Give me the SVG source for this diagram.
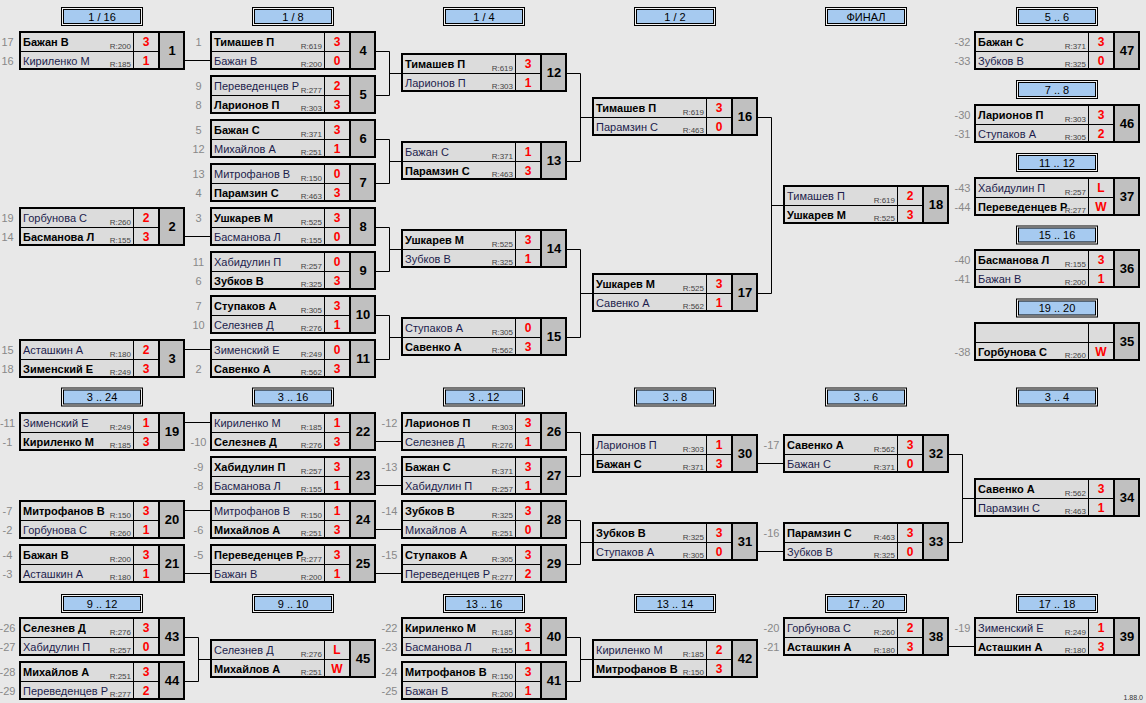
<svg xmlns="http://www.w3.org/2000/svg" xmlns:xlink="http://www.w3.org/1999/xlink" width="1146" height="703" viewBox="0 0 1146 703">
<style>
text{font-family:"Liberation Sans",Arial,sans-serif}
.nm{font-size:11px;fill:#1c1c4c}
.w{font-weight:bold;fill:#000}
.rt{font-size:8px;fill:#444;text-anchor:end}
.sc{font-size:12px;font-weight:bold;fill:#f00;text-anchor:middle}
.no{font-size:13px;font-weight:bold;fill:#000;text-anchor:middle}
.sd{font-size:11px;fill:#888;text-anchor:middle}
.ht{font-size:11px;fill:#000;text-anchor:middle}
.cn{stroke:#000;stroke-width:1;fill:none}
.ver{font-size:7px;fill:#333;text-anchor:end}
</style>
<defs>
<g id="box">
<rect x="1" y="1" width="139" height="37" fill="#dcdcdc"/>
<rect x="140" y="1" width="25" height="37" fill="#c0c0c0"/>
<path d="M1 20.5H140M114.5 1V38" stroke="#000" stroke-width="1" fill="none"/>
<rect x="1" y="1" width="164" height="37" fill="none" stroke="#000" stroke-width="2"/>
<path d="M140 1V38" stroke="#000" stroke-width="2"/>
</g>
<g id="hdr">
<rect x="0.5" y="0.5" width="81" height="18" fill="#f2f2f2" stroke="#000"/>
<rect x="2.5" y="2.5" width="77" height="14" fill="#a6caf0" stroke="#000"/>
</g>
</defs>
<rect width="1146" height="703" fill="#e8e8e8"/>

<g id="headers">
<g transform="translate(61,7)"><use href="#hdr"/><text class="ht" x="41" y="13.5">1 / 16</text></g>
<g transform="translate(252,7)"><use href="#hdr"/><text class="ht" x="41" y="13.5">1 / 8</text></g>
<g transform="translate(443,7)"><use href="#hdr"/><text class="ht" x="41" y="13.5">1 / 4</text></g>
<g transform="translate(634,7)"><use href="#hdr"/><text class="ht" x="41" y="13.5">1 / 2</text></g>
<g transform="translate(825,7)"><use href="#hdr"/><text class="ht" x="41" y="13.5">ФИНАЛ</text></g>
<g transform="translate(1016,7)"><use href="#hdr"/><text class="ht" x="41" y="13.5">5 .. 6</text></g>
<g transform="translate(1016,80)"><use href="#hdr"/><text class="ht" x="41" y="13.5">7 .. 8</text></g>
<g transform="translate(1016,153)"><use href="#hdr"/><text class="ht" x="41" y="13.5">11 .. 12</text></g>
<g transform="translate(1016,225.5)"><use href="#hdr"/><text class="ht" x="41" y="13.5">15 .. 16</text></g>
<g transform="translate(1016,298.5)"><use href="#hdr"/><text class="ht" x="41" y="13.5">19 .. 20</text></g>
<g transform="translate(61,387.5)"><use href="#hdr"/><text class="ht" x="41" y="13.5">3 .. 24</text></g>
<g transform="translate(252,387.5)"><use href="#hdr"/><text class="ht" x="41" y="13.5">3 .. 16</text></g>
<g transform="translate(443,387.5)"><use href="#hdr"/><text class="ht" x="41" y="13.5">3 .. 12</text></g>
<g transform="translate(634,387.5)"><use href="#hdr"/><text class="ht" x="41" y="13.5">3 .. 8</text></g>
<g transform="translate(825,387.5)"><use href="#hdr"/><text class="ht" x="41" y="13.5">3 .. 6</text></g>
<g transform="translate(1016,387.5)"><use href="#hdr"/><text class="ht" x="41" y="13.5">3 .. 4</text></g>
<g transform="translate(61,594)"><use href="#hdr"/><text class="ht" x="41" y="13.5">9 .. 12</text></g>
<g transform="translate(252,594)"><use href="#hdr"/><text class="ht" x="41" y="13.5">9 .. 10</text></g>
<g transform="translate(443,594)"><use href="#hdr"/><text class="ht" x="41" y="13.5">13 .. 16</text></g>
<g transform="translate(634,594)"><use href="#hdr"/><text class="ht" x="41" y="13.5">13 .. 14</text></g>
<g transform="translate(825,594)"><use href="#hdr"/><text class="ht" x="41" y="13.5">17 .. 20</text></g>
<g transform="translate(1016,594)"><use href="#hdr"/><text class="ht" x="41" y="13.5">17 .. 18</text></g>
</g>

<g id="connectors" class="cn">
<path d="M184 60.5H211M184 236.5H211M184 349.5H211
M375 51.5H389.5V95.5H375M389.5 73.5H402
M375 139.5H389.5V183.5H375M389.5 161.5H402
M375 227.5H389.5V271.5H375M389.5 249.5H402
M375 315.5H389.5V359.5H375M389.5 337.5H402
M566 73.5H580.5V161.5H566M580.5 117.5H593
M566 249.5H580.5V337.5H566M580.5 293.5H593
M757 117.5H771.5V293.5H757M771.5 205.5H784
M184 422.5H211M184 510.5H211M184 573.5H211
M375 441.5H402M375 485.5H402M375 529.5H402M375 573.5H402
M566 432.5H580.5V476.5H566M580.5 454.5H593
M566 520.5H580.5V564.5H566M580.5 542.5H593
M757 463.5H784M757 551.5H784
M948 454.5H962.5V542.5H948M962.5 498.5H975
M184 637.5H198.5V681.5H184M198.5 659.5H211
M566 637.5H580.5V681.5H566M580.5 659.5H593
M948 646.5H975"/>
</g>

<g id="m1" transform="translate(19,31)"><use href="#box"/><text class="sd" x="-11.5" y="15">17</text><text class="sd" x="-11.5" y="34">16</text><text class="nm w" x="4" y="15">Бажан В</text><text class="rt" x="112" y="17.5">R:200</text><text class="sc" x="127" y="15">3</text><text class="nm" x="4" y="34">Кириленко М</text><text class="rt" x="112" y="36">R:185</text><text class="sc" x="127" y="34">1</text><text class="no" x="153" y="24">1</text></g>
<g id="m2" transform="translate(19,207)"><use href="#box"/><text class="sd" x="-11.5" y="15">19</text><text class="sd" x="-11.5" y="34">14</text><text class="nm" x="4" y="15">Горбунова С</text><text class="rt" x="112" y="17.5">R:260</text><text class="sc" x="127" y="15">2</text><text class="nm w" x="4" y="34">Басманова Л</text><text class="rt" x="112" y="36">R:155</text><text class="sc" x="127" y="34">3</text><text class="no" x="153" y="24">2</text></g>
<g id="m3" transform="translate(19,339)"><use href="#box"/><text class="sd" x="-11.5" y="15">15</text><text class="sd" x="-11.5" y="34">18</text><text class="nm" x="4" y="15">Асташкин А</text><text class="rt" x="112" y="17.5">R:180</text><text class="sc" x="127" y="15">2</text><text class="nm w" x="4" y="34">Зименский Е</text><text class="rt" x="112" y="36">R:249</text><text class="sc" x="127" y="34">3</text><text class="no" x="153" y="24">3</text></g>

<g id="m4" transform="translate(210,31)"><use href="#box"/><text class="sd" x="-11.5" y="15">1</text><text class="nm w" x="4" y="15">Тимашев П</text><text class="rt" x="112" y="17.5">R:619</text><text class="sc" x="127" y="15">3</text><text class="nm" x="4" y="34">Бажан В</text><text class="rt" x="112" y="36">R:200</text><text class="sc" x="127" y="34">0</text><text class="no" x="153" y="24">4</text></g>
<g id="m5" transform="translate(210,75)"><use href="#box"/><text class="sd" x="-11.5" y="15">9</text><text class="sd" x="-11.5" y="34">8</text><text class="nm" x="4" y="15">Переведенцев Р</text><text class="rt" x="112" y="17.5">R:277</text><text class="sc" x="127" y="15">2</text><text class="nm w" x="4" y="34">Ларионов П</text><text class="rt" x="112" y="36">R:303</text><text class="sc" x="127" y="34">3</text><text class="no" x="153" y="24">5</text></g>
<g id="m6" transform="translate(210,119)"><use href="#box"/><text class="sd" x="-11.5" y="15">5</text><text class="sd" x="-11.5" y="34">12</text><text class="nm w" x="4" y="15">Бажан С</text><text class="rt" x="112" y="17.5">R:371</text><text class="sc" x="127" y="15">3</text><text class="nm" x="4" y="34">Михайлов А</text><text class="rt" x="112" y="36">R:251</text><text class="sc" x="127" y="34">1</text><text class="no" x="153" y="24">6</text></g>
<g id="m7" transform="translate(210,163)"><use href="#box"/><text class="sd" x="-11.5" y="15">13</text><text class="sd" x="-11.5" y="34">4</text><text class="nm" x="4" y="15">Митрофанов В</text><text class="rt" x="112" y="17.5">R:150</text><text class="sc" x="127" y="15">0</text><text class="nm w" x="4" y="34">Парамзин С</text><text class="rt" x="112" y="36">R:463</text><text class="sc" x="127" y="34">3</text><text class="no" x="153" y="24">7</text></g>
<g id="m8" transform="translate(210,207)"><use href="#box"/><text class="sd" x="-11.5" y="15">3</text><text class="nm w" x="4" y="15">Ушкарев М</text><text class="rt" x="112" y="17.5">R:525</text><text class="sc" x="127" y="15">3</text><text class="nm" x="4" y="34">Басманова Л</text><text class="rt" x="112" y="36">R:155</text><text class="sc" x="127" y="34">0</text><text class="no" x="153" y="24">8</text></g>
<g id="m9" transform="translate(210,251)"><use href="#box"/><text class="sd" x="-11.5" y="15">11</text><text class="sd" x="-11.5" y="34">6</text><text class="nm" x="4" y="15">Хабидулин П</text><text class="rt" x="112" y="17.5">R:257</text><text class="sc" x="127" y="15">0</text><text class="nm w" x="4" y="34">Зубков В</text><text class="rt" x="112" y="36">R:325</text><text class="sc" x="127" y="34">3</text><text class="no" x="153" y="24">9</text></g>
<g id="m10" transform="translate(210,295)"><use href="#box"/><text class="sd" x="-11.5" y="15">7</text><text class="sd" x="-11.5" y="34">10</text><text class="nm w" x="4" y="15">Ступаков А</text><text class="rt" x="112" y="17.5">R:305</text><text class="sc" x="127" y="15">3</text><text class="nm" x="4" y="34">Селезнев Д</text><text class="rt" x="112" y="36">R:276</text><text class="sc" x="127" y="34">1</text><text class="no" x="153" y="24">10</text></g>
<g id="m11" transform="translate(210,339)"><use href="#box"/><text class="sd" x="-11.5" y="34">2</text><text class="nm" x="4" y="15">Зименский Е</text><text class="rt" x="112" y="17.5">R:249</text><text class="sc" x="127" y="15">0</text><text class="nm w" x="4" y="34">Савенко А</text><text class="rt" x="112" y="36">R:562</text><text class="sc" x="127" y="34">3</text><text class="no" x="153" y="24">11</text></g>

<g id="m12" transform="translate(401,53)"><use href="#box"/><text class="nm w" x="4" y="15">Тимашев П</text><text class="rt" x="112" y="17.5">R:619</text><text class="sc" x="127" y="15">3</text><text class="nm" x="4" y="34">Ларионов П</text><text class="rt" x="112" y="36">R:303</text><text class="sc" x="127" y="34">1</text><text class="no" x="153" y="24">12</text></g>
<g id="m13" transform="translate(401,141)"><use href="#box"/><text class="nm" x="4" y="15">Бажан С</text><text class="rt" x="112" y="17.5">R:371</text><text class="sc" x="127" y="15">1</text><text class="nm w" x="4" y="34">Парамзин С</text><text class="rt" x="112" y="36">R:463</text><text class="sc" x="127" y="34">3</text><text class="no" x="153" y="24">13</text></g>
<g id="m14" transform="translate(401,229)"><use href="#box"/><text class="nm w" x="4" y="15">Ушкарев М</text><text class="rt" x="112" y="17.5">R:525</text><text class="sc" x="127" y="15">3</text><text class="nm" x="4" y="34">Зубков В</text><text class="rt" x="112" y="36">R:325</text><text class="sc" x="127" y="34">1</text><text class="no" x="153" y="24">14</text></g>
<g id="m15" transform="translate(401,317)"><use href="#box"/><text class="nm" x="4" y="15">Ступаков А</text><text class="rt" x="112" y="17.5">R:305</text><text class="sc" x="127" y="15">0</text><text class="nm w" x="4" y="34">Савенко А</text><text class="rt" x="112" y="36">R:562</text><text class="sc" x="127" y="34">3</text><text class="no" x="153" y="24">15</text></g>

<g id="m16" transform="translate(592,97)"><use href="#box"/><text class="nm w" x="4" y="15">Тимашев П</text><text class="rt" x="112" y="17.5">R:619</text><text class="sc" x="127" y="15">3</text><text class="nm" x="4" y="34">Парамзин С</text><text class="rt" x="112" y="36">R:463</text><text class="sc" x="127" y="34">0</text><text class="no" x="153" y="24">16</text></g>
<g id="m17" transform="translate(592,273)"><use href="#box"/><text class="nm w" x="4" y="15">Ушкарев М</text><text class="rt" x="112" y="17.5">R:525</text><text class="sc" x="127" y="15">3</text><text class="nm" x="4" y="34">Савенко А</text><text class="rt" x="112" y="36">R:562</text><text class="sc" x="127" y="34">1</text><text class="no" x="153" y="24">17</text></g>
<g id="m18" transform="translate(783,185)"><use href="#box"/><text class="nm" x="4" y="15">Тимашев П</text><text class="rt" x="112" y="17.5">R:619</text><text class="sc" x="127" y="15">2</text><text class="nm w" x="4" y="34">Ушкарев М</text><text class="rt" x="112" y="36">R:525</text><text class="sc" x="127" y="34">3</text><text class="no" x="153" y="24">18</text></g>

<g id="m47" transform="translate(974,31)"><use href="#box"/><text class="sd" x="-11.5" y="15">-32</text><text class="sd" x="-11.5" y="34">-33</text><text class="nm w" x="4" y="15">Бажан С</text><text class="rt" x="112" y="17.5">R:371</text><text class="sc" x="127" y="15">3</text><text class="nm" x="4" y="34">Зубков В</text><text class="rt" x="112" y="36">R:325</text><text class="sc" x="127" y="34">0</text><text class="no" x="153" y="24">47</text></g>
<g id="m46" transform="translate(974,104)"><use href="#box"/><text class="sd" x="-11.5" y="15">-30</text><text class="sd" x="-11.5" y="34">-31</text><text class="nm w" x="4" y="15">Ларионов П</text><text class="rt" x="112" y="17.5">R:303</text><text class="sc" x="127" y="15">3</text><text class="nm" x="4" y="34">Ступаков А</text><text class="rt" x="112" y="36">R:305</text><text class="sc" x="127" y="34">2</text><text class="no" x="153" y="24">46</text></g>
<g id="m37" transform="translate(974,177)"><use href="#box"/><text class="sd" x="-11.5" y="15">-43</text><text class="sd" x="-11.5" y="34">-44</text><text class="nm" x="4" y="15">Хабидулин П</text><text class="rt" x="112" y="17.5">R:257</text><text class="sc" x="127" y="15">L</text><text class="nm w" x="4" y="34">Переведенцев Р</text><text class="rt" x="112" y="36">R:277</text><text class="sc" x="127" y="34">W</text><text class="no" x="153" y="24">37</text></g>
<g id="m36" transform="translate(974,249)"><use href="#box"/><text class="sd" x="-11.5" y="15">-40</text><text class="sd" x="-11.5" y="34">-41</text><text class="nm w" x="4" y="15">Басманова Л</text><text class="rt" x="112" y="17.5">R:155</text><text class="sc" x="127" y="15">3</text><text class="nm" x="4" y="34">Бажан В</text><text class="rt" x="112" y="36">R:200</text><text class="sc" x="127" y="34">1</text><text class="no" x="153" y="24">36</text></g>
<g id="m35" transform="translate(974,322)"><use href="#box"/><text class="sd" x="-11.5" y="34">-38</text><text class="nm w" x="4" y="34">Горбунова С</text><text class="rt" x="112" y="36">R:260</text><text class="sc" x="127" y="34">W</text><text class="no" x="153" y="24">35</text></g>

<g id="m19" transform="translate(19,412)"><use href="#box"/><text class="sd" x="-11.5" y="15">-11</text><text class="sd" x="-11.5" y="34">-1</text><text class="nm" x="4" y="15">Зименский Е</text><text class="rt" x="112" y="17.5">R:249</text><text class="sc" x="127" y="15">1</text><text class="nm w" x="4" y="34">Кириленко М</text><text class="rt" x="112" y="36">R:185</text><text class="sc" x="127" y="34">3</text><text class="no" x="153" y="24">19</text></g>
<g id="m20" transform="translate(19,500)"><use href="#box"/><text class="sd" x="-11.5" y="15">-7</text><text class="sd" x="-11.5" y="34">-2</text><text class="nm w" x="4" y="15">Митрофанов В</text><text class="rt" x="112" y="17.5">R:150</text><text class="sc" x="127" y="15">3</text><text class="nm" x="4" y="34">Горбунова С</text><text class="rt" x="112" y="36">R:260</text><text class="sc" x="127" y="34">1</text><text class="no" x="153" y="24">20</text></g>
<g id="m21" transform="translate(19,544)"><use href="#box"/><text class="sd" x="-11.5" y="15">-4</text><text class="sd" x="-11.5" y="34">-3</text><text class="nm w" x="4" y="15">Бажан В</text><text class="rt" x="112" y="17.5">R:200</text><text class="sc" x="127" y="15">3</text><text class="nm" x="4" y="34">Асташкин А</text><text class="rt" x="112" y="36">R:180</text><text class="sc" x="127" y="34">1</text><text class="no" x="153" y="24">21</text></g>

<g id="m22" transform="translate(210,412)"><use href="#box"/><text class="sd" x="-11.5" y="34">-10</text><text class="nm" x="4" y="15">Кириленко М</text><text class="rt" x="112" y="17.5">R:185</text><text class="sc" x="127" y="15">1</text><text class="nm w" x="4" y="34">Селезнев Д</text><text class="rt" x="112" y="36">R:276</text><text class="sc" x="127" y="34">3</text><text class="no" x="153" y="24">22</text></g>
<g id="m23" transform="translate(210,456)"><use href="#box"/><text class="sd" x="-11.5" y="15">-9</text><text class="sd" x="-11.5" y="34">-8</text><text class="nm w" x="4" y="15">Хабидулин П</text><text class="rt" x="112" y="17.5">R:257</text><text class="sc" x="127" y="15">3</text><text class="nm" x="4" y="34">Басманова Л</text><text class="rt" x="112" y="36">R:155</text><text class="sc" x="127" y="34">1</text><text class="no" x="153" y="24">23</text></g>
<g id="m24" transform="translate(210,500)"><use href="#box"/><text class="sd" x="-11.5" y="34">-6</text><text class="nm" x="4" y="15">Митрофанов В</text><text class="rt" x="112" y="17.5">R:150</text><text class="sc" x="127" y="15">1</text><text class="nm w" x="4" y="34">Михайлов А</text><text class="rt" x="112" y="36">R:251</text><text class="sc" x="127" y="34">3</text><text class="no" x="153" y="24">24</text></g>
<g id="m25" transform="translate(210,544)"><use href="#box"/><text class="sd" x="-11.5" y="15">-5</text><text class="nm w" x="4" y="15">Переведенцев Р</text><text class="rt" x="112" y="17.5">R:277</text><text class="sc" x="127" y="15">3</text><text class="nm" x="4" y="34">Бажан В</text><text class="rt" x="112" y="36">R:200</text><text class="sc" x="127" y="34">1</text><text class="no" x="153" y="24">25</text></g>

<g id="m26" transform="translate(401,412)"><use href="#box"/><text class="sd" x="-11.5" y="15">-12</text><text class="nm w" x="4" y="15">Ларионов П</text><text class="rt" x="112" y="17.5">R:303</text><text class="sc" x="127" y="15">3</text><text class="nm" x="4" y="34">Селезнев Д</text><text class="rt" x="112" y="36">R:276</text><text class="sc" x="127" y="34">1</text><text class="no" x="153" y="24">26</text></g>
<g id="m27" transform="translate(401,456)"><use href="#box"/><text class="sd" x="-11.5" y="15">-13</text><text class="nm w" x="4" y="15">Бажан С</text><text class="rt" x="112" y="17.5">R:371</text><text class="sc" x="127" y="15">3</text><text class="nm" x="4" y="34">Хабидулин П</text><text class="rt" x="112" y="36">R:257</text><text class="sc" x="127" y="34">1</text><text class="no" x="153" y="24">27</text></g>
<g id="m28" transform="translate(401,500)"><use href="#box"/><text class="sd" x="-11.5" y="15">-14</text><text class="nm w" x="4" y="15">Зубков В</text><text class="rt" x="112" y="17.5">R:325</text><text class="sc" x="127" y="15">3</text><text class="nm" x="4" y="34">Михайлов А</text><text class="rt" x="112" y="36">R:251</text><text class="sc" x="127" y="34">0</text><text class="no" x="153" y="24">28</text></g>
<g id="m29" transform="translate(401,544)"><use href="#box"/><text class="sd" x="-11.5" y="15">-15</text><text class="nm w" x="4" y="15">Ступаков А</text><text class="rt" x="112" y="17.5">R:305</text><text class="sc" x="127" y="15">3</text><text class="nm" x="4" y="34">Переведенцев Р</text><text class="rt" x="112" y="36">R:277</text><text class="sc" x="127" y="34">2</text><text class="no" x="153" y="24">29</text></g>

<g id="m30" transform="translate(592,434)"><use href="#box"/><text class="nm" x="4" y="15">Ларионов П</text><text class="rt" x="112" y="17.5">R:303</text><text class="sc" x="127" y="15">1</text><text class="nm w" x="4" y="34">Бажан С</text><text class="rt" x="112" y="36">R:371</text><text class="sc" x="127" y="34">3</text><text class="no" x="153" y="24">30</text></g>
<g id="m31" transform="translate(592,522)"><use href="#box"/><text class="nm w" x="4" y="15">Зубков В</text><text class="rt" x="112" y="17.5">R:325</text><text class="sc" x="127" y="15">3</text><text class="nm" x="4" y="34">Ступаков А</text><text class="rt" x="112" y="36">R:305</text><text class="sc" x="127" y="34">0</text><text class="no" x="153" y="24">31</text></g>
<g id="m32" transform="translate(783,434)"><use href="#box"/><text class="sd" x="-11.5" y="15">-17</text><text class="nm w" x="4" y="15">Савенко А</text><text class="rt" x="112" y="17.5">R:562</text><text class="sc" x="127" y="15">3</text><text class="nm" x="4" y="34">Бажан С</text><text class="rt" x="112" y="36">R:371</text><text class="sc" x="127" y="34">0</text><text class="no" x="153" y="24">32</text></g>
<g id="m33" transform="translate(783,522)"><use href="#box"/><text class="sd" x="-11.5" y="15">-16</text><text class="nm w" x="4" y="15">Парамзин С</text><text class="rt" x="112" y="17.5">R:463</text><text class="sc" x="127" y="15">3</text><text class="nm" x="4" y="34">Зубков В</text><text class="rt" x="112" y="36">R:325</text><text class="sc" x="127" y="34">0</text><text class="no" x="153" y="24">33</text></g>
<g id="m34" transform="translate(974,478)"><use href="#box"/><text class="nm w" x="4" y="15">Савенко А</text><text class="rt" x="112" y="17.5">R:562</text><text class="sc" x="127" y="15">3</text><text class="nm" x="4" y="34">Парамзин С</text><text class="rt" x="112" y="36">R:463</text><text class="sc" x="127" y="34">1</text><text class="no" x="153" y="24">34</text></g>

<g id="m43" transform="translate(19,617)"><use href="#box"/><text class="sd" x="-11.5" y="15">-26</text><text class="sd" x="-11.5" y="34">-27</text><text class="nm w" x="4" y="15">Селезнев Д</text><text class="rt" x="112" y="17.5">R:276</text><text class="sc" x="127" y="15">3</text><text class="nm" x="4" y="34">Хабидулин П</text><text class="rt" x="112" y="36">R:257</text><text class="sc" x="127" y="34">0</text><text class="no" x="153" y="24">43</text></g>
<g id="m44" transform="translate(19,661)"><use href="#box"/><text class="sd" x="-11.5" y="15">-28</text><text class="sd" x="-11.5" y="34">-29</text><text class="nm w" x="4" y="15">Михайлов А</text><text class="rt" x="112" y="17.5">R:251</text><text class="sc" x="127" y="15">3</text><text class="nm" x="4" y="34">Переведенцев Р</text><text class="rt" x="112" y="36">R:277</text><text class="sc" x="127" y="34">2</text><text class="no" x="153" y="24">44</text></g>
<g id="m45" transform="translate(210,639)"><use href="#box"/><text class="nm" x="4" y="15">Селезнев Д</text><text class="rt" x="112" y="17.5">R:276</text><text class="sc" x="127" y="15">L</text><text class="nm w" x="4" y="34">Михайлов А</text><text class="rt" x="112" y="36">R:251</text><text class="sc" x="127" y="34">W</text><text class="no" x="153" y="24">45</text></g>
<g id="m40" transform="translate(401,617)"><use href="#box"/><text class="sd" x="-11.5" y="15">-22</text><text class="sd" x="-11.5" y="34">-23</text><text class="nm w" x="4" y="15">Кириленко М</text><text class="rt" x="112" y="17.5">R:185</text><text class="sc" x="127" y="15">3</text><text class="nm" x="4" y="34">Басманова Л</text><text class="rt" x="112" y="36">R:155</text><text class="sc" x="127" y="34">1</text><text class="no" x="153" y="24">40</text></g>
<g id="m41" transform="translate(401,661)"><use href="#box"/><text class="sd" x="-11.5" y="15">-24</text><text class="sd" x="-11.5" y="34">-25</text><text class="nm w" x="4" y="15">Митрофанов В</text><text class="rt" x="112" y="17.5">R:150</text><text class="sc" x="127" y="15">3</text><text class="nm" x="4" y="34">Бажан В</text><text class="rt" x="112" y="36">R:200</text><text class="sc" x="127" y="34">1</text><text class="no" x="153" y="24">41</text></g>
<g id="m42" transform="translate(592,639)"><use href="#box"/><text class="nm" x="4" y="15">Кириленко М</text><text class="rt" x="112" y="17.5">R:185</text><text class="sc" x="127" y="15">2</text><text class="nm w" x="4" y="34">Митрофанов В</text><text class="rt" x="112" y="36">R:150</text><text class="sc" x="127" y="34">3</text><text class="no" x="153" y="24">42</text></g>
<g id="m38" transform="translate(783,617)"><use href="#box"/><text class="sd" x="-11.5" y="15">-20</text><text class="sd" x="-11.5" y="34">-21</text><text class="nm" x="4" y="15">Горбунова С</text><text class="rt" x="112" y="17.5">R:260</text><text class="sc" x="127" y="15">2</text><text class="nm w" x="4" y="34">Асташкин А</text><text class="rt" x="112" y="36">R:180</text><text class="sc" x="127" y="34">3</text><text class="no" x="153" y="24">38</text></g>
<g id="m39" transform="translate(974,617)"><use href="#box"/><text class="sd" x="-11.5" y="15">-19</text><text class="nm" x="4" y="15">Зименский Е</text><text class="rt" x="112" y="17.5">R:249</text><text class="sc" x="127" y="15">1</text><text class="nm w" x="4" y="34">Асташкин А</text><text class="rt" x="112" y="36">R:180</text><text class="sc" x="127" y="34">3</text><text class="no" x="153" y="24">39</text></g>

<text class="ver" x="1143" y="700">1.88.0</text>
</svg>
